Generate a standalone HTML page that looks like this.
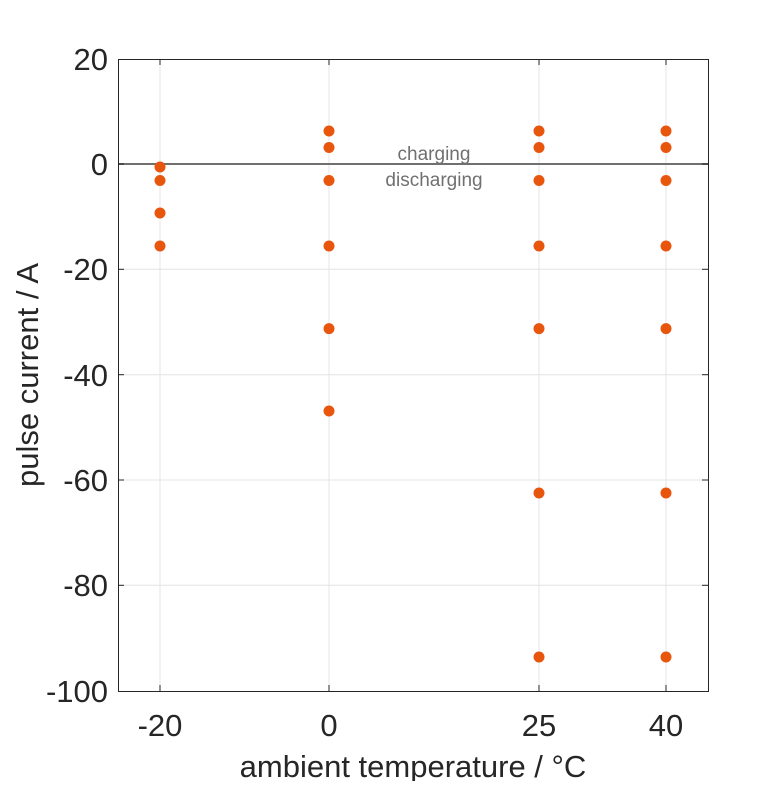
<!DOCTYPE html>
<html><head><meta charset="utf-8"><style>body{margin:0;background:#fff}</style></head><body>
<svg width="781" height="781" xmlns="http://www.w3.org/2000/svg" font-family="Liberation Sans, sans-serif">
<rect width="781" height="781" fill="#fff"/>
<g stroke="#e4e4e4" stroke-width="1">
<line x1="160" y1="59" x2="160" y2="691"/><line x1="329" y1="59" x2="329" y2="691"/>
<line x1="539" y1="59" x2="539" y2="691"/><line x1="666" y1="59" x2="666" y2="691"/>
<line x1="118" y1="269.3" x2="708" y2="269.3"/><line x1="118" y1="374.7" x2="708" y2="374.7"/>
<line x1="118" y1="480" x2="708" y2="480"/><line x1="118" y1="585.3" x2="708" y2="585.3"/>
</g>
<line x1="118" y1="164" x2="708" y2="164" stroke="#707070" stroke-width="2"/>
<rect x="118.5" y="59.5" width="590" height="632" fill="none" stroke="#262626" stroke-width="1"/>
<g stroke="#262626" stroke-width="1">
<line x1="160" y1="691" x2="160" y2="685"/><line x1="329" y1="691" x2="329" y2="685"/><line x1="539" y1="691" x2="539" y2="685"/><line x1="666" y1="691" x2="666" y2="685"/>
<line x1="160" y1="59" x2="160" y2="65"/><line x1="329" y1="59" x2="329" y2="65"/><line x1="539" y1="59" x2="539" y2="65"/><line x1="666" y1="59" x2="666" y2="65"/>
<line x1="118" y1="164" x2="124" y2="164"/><line x1="118" y1="269.3" x2="124" y2="269.3"/><line x1="118" y1="374.7" x2="124" y2="374.7"/><line x1="118" y1="480" x2="124" y2="480"/><line x1="118" y1="585.3" x2="124" y2="585.3"/>
<line x1="708" y1="164" x2="702" y2="164"/><line x1="708" y1="269.3" x2="702" y2="269.3"/><line x1="708" y1="374.7" x2="702" y2="374.7"/><line x1="708" y1="480" x2="702" y2="480"/><line x1="708" y1="585.3" x2="702" y2="585.3"/>
</g>
<g font-size="31" fill="#262626" text-anchor="end">
<text x="108" y="70">20</text><text x="108" y="175">0</text><text x="108" y="280">-20</text><text x="108" y="386">-40</text><text x="108" y="491">-60</text><text x="108" y="596">-80</text><text x="108" y="702">-100</text>
</g>
<g font-size="31" fill="#262626" text-anchor="middle">
<text x="160" y="736">-20</text><text x="329" y="736">0</text><text x="539" y="736">25</text><text x="666" y="736">40</text>
<text x="413" y="777">ambient temperature / °C</text>
<text transform="translate(38,375) rotate(-90)">pulse current / A</text>
</g>
<g font-size="19" fill="#707070" text-anchor="middle">
<text x="434" y="160">charging</text><text x="434" y="186">discharging</text>
</g>
<g fill="#E8560E">
<circle cx="160" cy="167" r="5.5"/><circle cx="160" cy="180.5" r="5.5"/><circle cx="160" cy="213" r="5.5"/><circle cx="160" cy="246" r="5.5"/>
<circle cx="329" cy="131" r="5.5"/><circle cx="329" cy="147.5" r="5.5"/><circle cx="329" cy="180.5" r="5.5"/><circle cx="329" cy="246" r="5.5"/><circle cx="329" cy="328.6" r="5.5"/><circle cx="329" cy="411" r="5.5"/>
<circle cx="539" cy="131" r="5.5"/><circle cx="539" cy="147.5" r="5.5"/><circle cx="539" cy="180.5" r="5.5"/><circle cx="539" cy="246" r="5.5"/><circle cx="539" cy="328.6" r="5.5"/><circle cx="539" cy="493" r="5.5"/><circle cx="539" cy="657" r="5.5"/>
<circle cx="666" cy="131" r="5.5"/><circle cx="666" cy="147.5" r="5.5"/><circle cx="666" cy="180.5" r="5.5"/><circle cx="666" cy="246" r="5.5"/><circle cx="666" cy="328.6" r="5.5"/><circle cx="666" cy="493" r="5.5"/><circle cx="666" cy="657" r="5.5"/>
</g>
</svg>
</body></html>
